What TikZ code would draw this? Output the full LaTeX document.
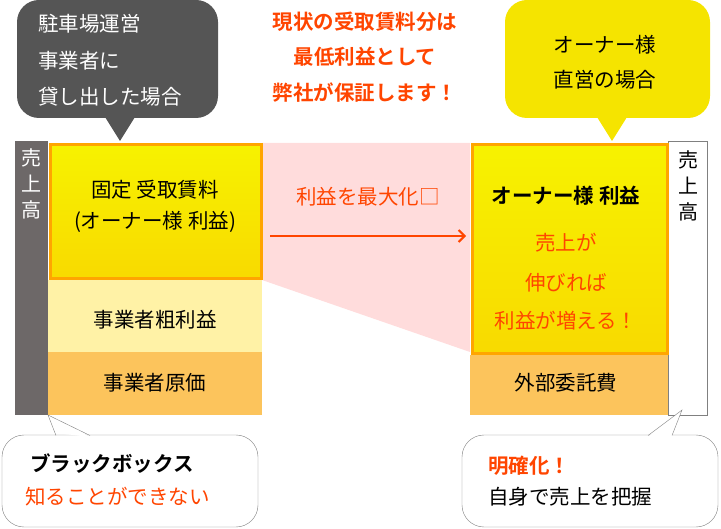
\documentclass[tikz,border=0pt]{standalone}
\usepackage{fontspec}
\usetikzlibrary{arrows.meta}
\setmainfont{Noto Sans CJK JP}
\newfontfamily\jpb{Noto Sans CJK JP Bold}
\begin{document}
\begin{tikzpicture}[x=1pt,y=-1pt,
  txt/.style={font=\fontsize{20.5}{24}\selectfont,inner sep=0pt},
  btxt/.style={font=\jpb\fontsize{20.5}{24}\selectfont,inner sep=0pt},
  red/.style={text=orangered},
  ybox/.style={draw=orangeb,line width=3pt,top color=yellowa,bottom color=yellowb}]
\definecolor{orangered}{HTML}{FF4500}
\definecolor{orangeb}{HTML}{FFA500}
\definecolor{yellowa}{HTML}{F7F200}
\definecolor{yellowb}{HTML}{F8DA00}
\definecolor{lightyel}{HTML}{FFF2A6}
\definecolor{orng}{HTML}{FCC45C}
\definecolor{pinkf}{HTML}{FFDCDC}
\definecolor{barg}{HTML}{6D6868}
\definecolor{bubg}{HTML}{555555}
\definecolor{buby}{HTML}{F5E400}
\useasboundingbox (0,0) rectangle (721,529);
% pink trapezoid
\fill[pinkf] (262,143) -- (470,143) -- (470,352) -- (262,280) -- cycle;
% left column
\fill[barg] (15,141) rectangle (48,415);
\node[txt,text=white,align=center,font=\fontsize{20}{26}\selectfont] (lv) at (31,184) {売\\上\\高};
\fill[lightyel] (48,280) rectangle (262,352);
\fill[orng] (48,352) rectangle (262,415);
\draw[ybox] (50,145) rectangle (261,279);
\node[txt] (l1) at (155,190) {固定 受取賃料};
\node[txt] (l2) at (155,222) {(オーナー様 利益)};
\node[txt] (l3) at (155,320) {事業者粗利益};
\node[txt] (l4) at (155,383) {事業者原価};
% right column
\draw[gray,fill=white] (668,141) rectangle (707,415);
\node[txt,align=center,font=\fontsize{20}{26}\selectfont] (rv) at (688,186) {売\\上\\高};
\fill[orng] (470,355) rectangle (668,415);
\draw[ybox] (472,145) rectangle (667,354);
\node[btxt] (r1) at (566,196) {オーナー様 利益};
\node[txt,red] (r2) at (566,243) {売上が};
\node[txt,red] (r3) at (566,283) {伸びれば};
\node[txt,red] (r4) at (566,321) {利益が増える！};
\node[txt] (r5) at (566,383) {外部委託費};
% arrow
\coordinate (as) at (270,236);
\coordinate (ae) at (466,236);
\draw[orangered,line width=2pt,-{Straight Barb[length=6pt,width=12pt]}] (as) -- (ae);
\node[txt,red] (al) at (368,197) {利益を最大化□};
% top left bubble
\fill[bubg,rounded corners=22pt] (17,0) rectangle (218,118);
\fill[bubg] (105,117) -- (120,141) -- (135,117) -- cycle;
\node[txt,text=white,anchor=west] (t1) at (38,24) {駐車場運営};
\node[txt,text=white,anchor=west] (t2) at (38,61) {事業者に};
\node[txt,text=white,anchor=west] (t3) at (38,97) {貸し出した場合};
% top center
\node[btxt,red] (c1) at (365,22) {現状の受取賃料分は};
\node[btxt,red] (c2) at (365,57) {最低利益として};
\node[btxt,red] (c3) at (365,93) {弊社が保証します！};
% top right bubble
\fill[buby,rounded corners=22pt] (505,0) rectangle (710,118);
\fill[buby] (597,117) -- (612,141) -- (627,117) -- cycle;
\node[txt] (y1) at (605,45) {オーナー様};
\node[txt] (y2) at (605,80) {直営の場合};
% bottom left bubble
\draw[gray,fill=white,rounded corners=22pt] (2,435) rectangle (258,527);
\fill[white] (56,433) -- (48,415) -- (90,437) -- cycle;
\draw[gray] (56,435.5) -- (48,415) -- (90,435.5);
\node[btxt,anchor=west] (b1) at (30,464) {ブラックボックス};
\node[txt,red,anchor=west] (b2) at (25,497) {知ることができない};
% bottom right bubble
\draw[gray,fill=white,rounded corners=22pt] (462,435) rectangle (718,527);
\fill[white] (648,437) -- (682,410) -- (672,437) -- cycle;
\draw[gray] (648,435.5) -- (682,410) -- (672,435.5);
\node[btxt,red,anchor=west] (d1) at (488,466) {明確化！};
\node[txt,anchor=west] (d2) at (488,497) {自身で売上を把握};
\end{tikzpicture}
\end{document}
